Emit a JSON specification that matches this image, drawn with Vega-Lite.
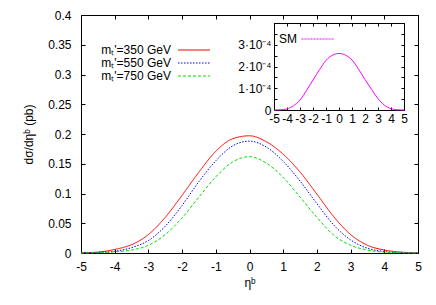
{
  "$schema": "https://vega.github.io/schema/vega-lite/v6.json",
  "width": 337,
  "height": 238,
  "autosize": "none",
  "padding": {"left": 81, "top": 15, "right": 18, "bottom": 52},
  "config": {
    "font": "Liberation Sans",
    "view": {"stroke": null},
    "axis": {"grid": false, "domainColor": "#000", "tickColor": "#000", "labelColor": "#000", "titleColor": "#000", "labelFontSize": 12, "titleFontSize": 12, "titleFontWeight": "normal", "labelFlush": false, "labelOverlap": false, "domainWidth": 1, "tickWidth": 1}
  },
  "datasets": {
    "main": [
      {"eta": -5, "val": 0.0004, "series": "mₜ'=350 GeV"},
      {"eta": -4.5, "val": 0.0015, "series": "mₜ'=350 GeV"},
      {"eta": -4, "val": 0.006, "series": "mₜ'=350 GeV"},
      {"eta": -3.5, "val": 0.014, "series": "mₜ'=350 GeV"},
      {"eta": -3, "val": 0.031, "series": "mₜ'=350 GeV"},
      {"eta": -2.5, "val": 0.06, "series": "mₜ'=350 GeV"},
      {"eta": -2, "val": 0.097, "series": "mₜ'=350 GeV"},
      {"eta": -1.5, "val": 0.136, "series": "mₜ'=350 GeV"},
      {"eta": -1, "val": 0.171, "series": "mₜ'=350 GeV"},
      {"eta": -0.5, "val": 0.192, "series": "mₜ'=350 GeV"},
      {"eta": 0, "val": 0.197, "series": "mₜ'=350 GeV"},
      {"eta": 0.5, "val": 0.187, "series": "mₜ'=350 GeV"},
      {"eta": 1, "val": 0.166, "series": "mₜ'=350 GeV"},
      {"eta": 1.5, "val": 0.136, "series": "mₜ'=350 GeV"},
      {"eta": 2, "val": 0.099, "series": "mₜ'=350 GeV"},
      {"eta": 2.5, "val": 0.061, "series": "mₜ'=350 GeV"},
      {"eta": 3, "val": 0.031, "series": "mₜ'=350 GeV"},
      {"eta": 3.5, "val": 0.013, "series": "mₜ'=350 GeV"},
      {"eta": 4, "val": 0.005, "series": "mₜ'=350 GeV"},
      {"eta": 4.5, "val": 0.0015, "series": "mₜ'=350 GeV"},
      {"eta": 5, "val": 0.0003, "series": "mₜ'=350 GeV"},
      {"eta": -5, "val": 0.0002, "series": "mₜ'=550 GeV"},
      {"eta": -4.5, "val": 0.001, "series": "mₜ'=550 GeV"},
      {"eta": -4, "val": 0.003, "series": "mₜ'=550 GeV"},
      {"eta": -3.5, "val": 0.009, "series": "mₜ'=550 GeV"},
      {"eta": -3, "val": 0.021, "series": "mₜ'=550 GeV"},
      {"eta": -2.5, "val": 0.045, "series": "mₜ'=550 GeV"},
      {"eta": -2, "val": 0.08, "series": "mₜ'=550 GeV"},
      {"eta": -1.5, "val": 0.12, "series": "mₜ'=550 GeV"},
      {"eta": -1, "val": 0.155, "series": "mₜ'=550 GeV"},
      {"eta": -0.5, "val": 0.18, "series": "mₜ'=550 GeV"},
      {"eta": 0, "val": 0.188, "series": "mₜ'=550 GeV"},
      {"eta": 0.5, "val": 0.178, "series": "mₜ'=550 GeV"},
      {"eta": 1, "val": 0.154, "series": "mₜ'=550 GeV"},
      {"eta": 1.5, "val": 0.121, "series": "mₜ'=550 GeV"},
      {"eta": 2, "val": 0.083, "series": "mₜ'=550 GeV"},
      {"eta": 2.5, "val": 0.047, "series": "mₜ'=550 GeV"},
      {"eta": 3, "val": 0.022, "series": "mₜ'=550 GeV"},
      {"eta": 3.5, "val": 0.008, "series": "mₜ'=550 GeV"},
      {"eta": 4, "val": 0.0025, "series": "mₜ'=550 GeV"},
      {"eta": 4.5, "val": 0.0006, "series": "mₜ'=550 GeV"},
      {"eta": 5, "val": 0.0001, "series": "mₜ'=550 GeV"},
      {"eta": -5, "val": 0.0001, "series": "mₜ'=750 GeV"},
      {"eta": -4.5, "val": 0.0005, "series": "mₜ'=750 GeV"},
      {"eta": -4, "val": 0.002, "series": "mₜ'=750 GeV"},
      {"eta": -3.5, "val": 0.005, "series": "mₜ'=750 GeV"},
      {"eta": -3, "val": 0.013, "series": "mₜ'=750 GeV"},
      {"eta": -2.5, "val": 0.031, "series": "mₜ'=750 GeV"},
      {"eta": -2, "val": 0.059, "series": "mₜ'=750 GeV"},
      {"eta": -1.5, "val": 0.094, "series": "mₜ'=750 GeV"},
      {"eta": -1, "val": 0.128, "series": "mₜ'=750 GeV"},
      {"eta": -0.5, "val": 0.153, "series": "mₜ'=750 GeV"},
      {"eta": 0, "val": 0.162, "series": "mₜ'=750 GeV"},
      {"eta": 0.5, "val": 0.151, "series": "mₜ'=750 GeV"},
      {"eta": 1, "val": 0.127, "series": "mₜ'=750 GeV"},
      {"eta": 1.5, "val": 0.094, "series": "mₜ'=750 GeV"},
      {"eta": 2, "val": 0.06, "series": "mₜ'=750 GeV"},
      {"eta": 2.5, "val": 0.03, "series": "mₜ'=750 GeV"},
      {"eta": 3, "val": 0.013, "series": "mₜ'=750 GeV"},
      {"eta": 3.5, "val": 0.005, "series": "mₜ'=750 GeV"},
      {"eta": 4, "val": 0.0015, "series": "mₜ'=750 GeV"},
      {"eta": 4.5, "val": 0.0004, "series": "mₜ'=750 GeV"},
      {"eta": 5, "val": 0.0001, "series": "mₜ'=750 GeV"}
    ],
    "sm": [
      {"eta": -5, "val": 0, "series": "SM"},
      {"eta": -4.5, "val": 0.000001, "series": "SM"},
      {"eta": -4, "val": 0.000005, "series": "SM"},
      {"eta": -3.5, "val": 0.00002, "series": "SM"},
      {"eta": -3, "val": 0.000046, "series": "SM"},
      {"eta": -2.5, "val": 0.00009, "series": "SM"},
      {"eta": -2, "val": 0.000138, "series": "SM"},
      {"eta": -1.5, "val": 0.000185, "series": "SM"},
      {"eta": -1, "val": 0.000228, "series": "SM"},
      {"eta": -0.5, "val": 0.000252, "series": "SM"},
      {"eta": 0, "val": 0.00026, "series": "SM"},
      {"eta": 0.5, "val": 0.000252, "series": "SM"},
      {"eta": 1, "val": 0.00023, "series": "SM"},
      {"eta": 1.5, "val": 0.000188, "series": "SM"},
      {"eta": 2, "val": 0.00014, "series": "SM"},
      {"eta": 2.5, "val": 0.000095, "series": "SM"},
      {"eta": 3, "val": 0.000052, "series": "SM"},
      {"eta": 3.5, "val": 0.000022, "series": "SM"},
      {"eta": 4, "val": 0.000006, "series": "SM"},
      {"eta": 4.5, "val": 0.000001, "series": "SM"},
      {"eta": 5, "val": 0, "series": "SM"}
    ]
  },
  "layer": [
    {
      "data": {"name": "main"},
      "mark": {"type": "line", "interpolate": "monotone", "strokeWidth": 1},
      "encoding": {
        "x": {"field": "eta", "type": "quantitative", "scale": {"domain": [-5, 5], "nice": false, "zero": false},
          "axis": {"orient": "bottom", "values": [-5, -4, -3, -2, -1, 0, 1, 2, 3, 4, 5], "labelExpr": "'' + datum.value", "tickSize": -4, "labelPadding": 12, "title": "ηᵇ", "titlePadding": 5}},
        "y": {"field": "val", "type": "quantitative", "scale": {"domain": [0, 0.4], "nice": false},
          "axis": {"orient": "left", "values": [0, 0.05, 0.1, 0.15, 0.2, 0.25, 0.3, 0.35, 0.4], "format": "~g", "tickSize": -4, "labelPadding": 14, "title": "dσ/dηᵇ (pb)", "titlePadding": 12}},
        "color": {"field": "series", "type": "nominal",
          "scale": {"domain": ["mₜ'=350 GeV", "mₜ'=550 GeV", "mₜ'=750 GeV"], "range": ["#ff0000", "#0000ff", "#00e000"]},
          "legend": {"orient": "none", "legendX": 107, "legendY": 29, "title": null, "symbolType": "M-4,0H4", "symbolSize": 64, "symbolStrokeWidth": 1, "labelAlign": "right", "labelOffset": -29, "labelFontSize": 12, "rowPadding": 1, "labelColor": "#000"}},
        "strokeDash": {"field": "series", "type": "nominal",
          "scale": {"domain": ["mₜ'=350 GeV", "mₜ'=550 GeV", "mₜ'=750 GeV"], "range": [[1, 0], [1.5, 1.5], [3, 2]]},
          "legend": {"orient": "none", "legendX": 107, "legendY": 29, "title": null, "symbolType": "M-4,0H4", "symbolSize": 64, "symbolStrokeWidth": 1, "labelAlign": "right", "labelOffset": -29, "labelFontSize": 12, "rowPadding": 1, "labelColor": "#000"}}
      }
    },
    {
      "data": {"name": "main"},
      "mark": {"type": "line", "opacity": 0},
      "encoding": {
        "x": {"field": "eta", "type": "quantitative", "scale": {"domain": [-5, 5], "nice": false, "zero": false},
          "axis": {"orient": "top", "values": [-5, -4, -3, -2, -1, 0, 1, 2, 3, 4, 5], "tickSize": -4, "labels": false, "title": null}},
        "y": {"field": "val", "type": "quantitative", "scale": {"domain": [0, 0.4], "nice": false},
          "axis": {"orient": "right", "values": [0, 0.05, 0.1, 0.15, 0.2, 0.25, 0.3, 0.35, 0.4], "tickSize": -4, "labels": false, "title": null}}
      }
    },
    {
      "data": {"name": "sm"},
      "mark": {"type": "line", "interpolate": "monotone", "strokeWidth": 1},
      "encoding": {
        "x": {"field": "eta", "type": "quantitative", "scale": {"domain": [-5, 5], "nice": false, "zero": false, "range": [193, 323]},
          "axis": {"orient": "bottom", "offset": -143, "values": [-5, -4, -3, -2, -1, 0, 1, 2, 3, 4, 5], "labelExpr": "'' + datum.value", "tickSize": -3, "labelPadding": 6, "title": null}},
        "y": {"field": "val", "type": "quantitative", "scale": {"domain": [0, 0.0004], "nice": false, "range": [95, 8]},
          "axis": {"orient": "left", "offset": -193, "values": [0, 0.00005, 0.0001, 0.00015, 0.0002, 0.00025, 0.0003, 0.00035, 0.0004], "tickSize": -3, "labelPadding": 6, "title": null,
            "labelExpr": "datum.value == 0 ? '0' : (abs(datum.value / 0.0001 - round(datum.value / 0.0001)) < 0.01 && datum.value < 0.00035 ? round(datum.value / 0.0001) + '·10⁻⁴' : '')"}},
        "color": {"field": "series", "type": "nominal",
          "scale": {"domain": ["SM"], "range": ["#ff00ff"]},
          "legend": {"orient": "none", "legendX": 231, "legendY": 18, "title": null, "symbolType": "M-4.125,0H4.125", "symbolSize": 64, "symbolStrokeWidth": 1, "symbolDash": [2, 1], "labelAlign": "right", "labelOffset": -27, "labelFontSize": 12, "labelColor": "#000"}}
      }
    },
    {
      "data": {"name": "sm"},
      "mark": {"type": "line", "opacity": 0},
      "encoding": {
        "x": {"field": "eta", "type": "quantitative", "scale": {"domain": [-5, 5], "nice": false, "zero": false, "range": [193, 323]},
          "axis": {"orient": "top", "offset": -8, "values": [-5, -4, -3, -2, -1, 0, 1, 2, 3, 4, 5], "tickSize": -3, "labels": false, "title": null}},
        "y": {"field": "val", "type": "quantitative", "scale": {"domain": [0, 0.0004], "nice": false, "range": [95, 8]},
          "axis": {"orient": "right", "offset": -14, "values": [0, 0.00005, 0.0001, 0.00015, 0.0002, 0.00025, 0.0003, 0.00035, 0.0004], "tickSize": -3, "labels": false, "title": null}}
      }
    }
  ],
  "resolve": {"scale": {"x": "independent", "y": "independent", "color": "independent", "strokeDash": "independent"}, "axis": {"x": "independent", "y": "independent"}}
}
